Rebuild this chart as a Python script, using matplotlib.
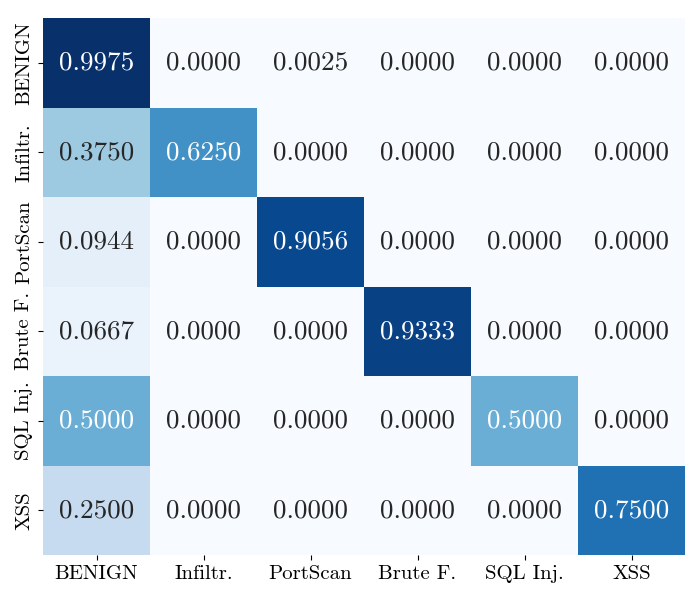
import matplotlib
matplotlib.use("Agg")
import matplotlib.pyplot as plt
import seaborn as sns
import numpy as np

plt.rcParams['font.family'] = ['cmr10', 'DejaVu Serif']
plt.rcParams['axes.unicode_minus'] = False

# class labels
labels = ['BENIGN', 'Infiltr.', 'PortScan', 'Brute F.', 'SQL Inj.', 'XSS']

# normalised confusion matrix (rows = true class)
row_benign = [0.9975, 0.0000, 0.0025, 0.0000, 0.0000, 0.0000]
row_infiltr = [0.3750, 0.6250, 0.0000, 0.0000, 0.0000, 0.0000]
row_portscan = [0.0944, 0.0000, 0.9056, 0.0000, 0.0000, 0.0000]
row_brute = [0.0667, 0.0000, 0.0000, 0.9333, 0.0000, 0.0000]
row_sql = [0.5000, 0.0000, 0.0000, 0.0000, 0.5000, 0.0000]
row_xss = [0.2500, 0.0000, 0.0000, 0.0000, 0.0000, 0.7500]

cm = np.array([row_benign, row_infiltr, row_portscan, row_brute, row_sql, row_xss])

fig = plt.figure(figsize=(7, 6), dpi=100)
ax = fig.add_axes([43 / 700, 45 / 600, 642 / 700, 537 / 600])

sns.heatmap(cm, annot=True, fmt='.4f', cmap='Blues', cbar=False,
            xticklabels=labels, yticklabels=labels, ax=ax,
            annot_kws={'fontsize': 19.5})

ax.tick_params(axis='both', labelsize=15)
plt.setp(ax.get_yticklabels(), rotation=90, va='center')
plt.setp(ax.get_xticklabels(), rotation=0)

fig.savefig('out.png', dpi=100)
